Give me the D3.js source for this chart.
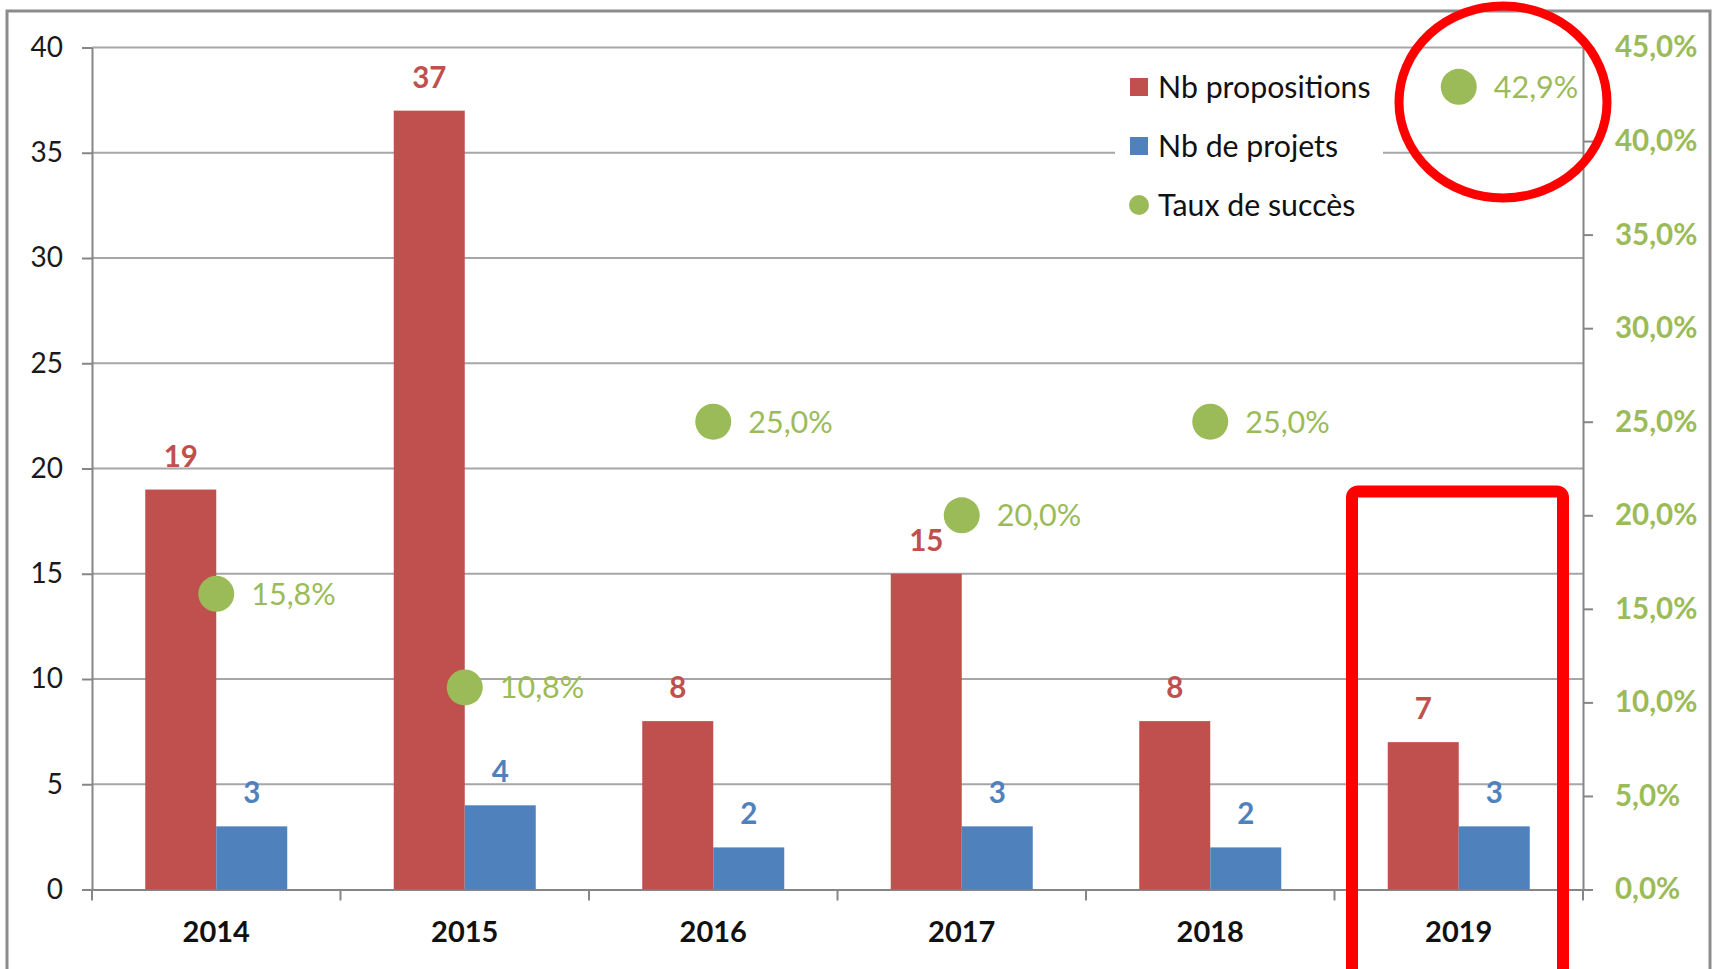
<!DOCTYPE html>
<html>
<head>
<meta charset="utf-8">
<script src="https://cdn.jsdelivr.net/npm/d3@7"></script>
<style>
  html, body { margin: 0; padding: 0; background: #fff; }
  svg { display: block; font-family: Lato, "Open Sans", sans-serif; }
</style>
</head>
<body>
<div id="app"></div>
<script>
const years = ["2014", "2015", "2016", "2017", "2018", "2019"];
const propositions = [19, 37, 8, 15, 8, 7];
const projets = [3, 4, 2, 3, 2, 3];
const taux = [0.158, 0.108, 0.25, 0.2, 0.25, 0.429];
const leftTicks = [0, 5, 10, 15, 20, 25, 30, 35, 40];
const rightTicks = [0, 0.05, 0.1, 0.15, 0.2, 0.25, 0.3, 0.35, 0.4, 0.45];
const seriesNames = ["Nb propositions", "Nb de projets", "Taux de succès"];

const red = "#c0504d", blue = "#4f81bd", green = "#9bbb59";

const W = 1717, H = 969;
const plotLeft = 92, plotRight = 1583, plotTop = 47.5, plotBottom = 889.5;

const svg = d3.select("#app").append("svg").attr("width", W).attr("height", H);

// chart frame
svg.append("rect")
  .attr("x", 7).attr("y", 11)
  .attr("width", 1703).attr("height", 1000)
  .attr("fill", "#fff").attr("stroke", "#8c8c8c").attr("stroke-width", 3);

const x = d3.scaleBand().domain(years).range([plotLeft, plotRight]);
const xSub = d3.scaleBand().domain(["prop", "proj"]).range([0, x.bandwidth()]).paddingOuter(0.75);
const yL = d3.scaleLinear().domain([0, 40]).range([plotBottom, plotTop]);
const yR = d3.scaleLinear().domain([0, 0.45]).range([plotBottom, plotTop]);

const fr = d3.formatLocale({ decimal: ",", thousands: " ", grouping: [3], currency: ["", "€"] });
const pct = fr.format(".1%");

// gridlines
svg.append("g").selectAll("line")
  .data(leftTicks.filter(d => d > 0))
  .join("line")
  .attr("x1", plotLeft).attr("x2", plotRight)
  .attr("y1", d => yL(d)).attr("y2", d => yL(d))
  .attr("stroke", "#a6a6a6").attr("stroke-width", 2);

// legend background hides gridline
svg.append("rect")
  .attr("x", 1115).attr("y", 62).attr("width", 268).attr("height", 172)
  .attr("fill", "#fff");

// axes
const axL = svg.append("g").attr("transform", `translate(${plotLeft},0)`)
  .call(d3.axisLeft(yL).tickValues(leftTicks).tickSize(10).tickSizeOuter(0).tickPadding(19));
axL.selectAll("text").attr("font-size", 28).attr("fill", "#1a1a1a").style("font-family", "Lato");

const axR = svg.append("g").attr("transform", `translate(${plotRight},0)`)
  .call(d3.axisRight(yR).tickValues(rightTicks).tickFormat(pct).tickSize(10).tickSizeOuter(0).tickPadding(22));
axR.selectAll("text").attr("font-size", 29.5).attr("font-weight", "bold").attr("fill", green).style("font-family", "Lato");

const axB = svg.append("g").attr("transform", `translate(0,${plotBottom})`)
  .call(d3.axisBottom(x).tickSize(0).tickSizeOuter(0).tickPadding(32));
axB.selectAll("text").attr("font-size", 29).attr("font-weight", "bold").attr("fill", "#111").style("font-family", "Lato");

// category boundary ticks
svg.append("g").selectAll("line")
  .data(years.map(d => x(d)).concat([plotRight]))
  .join("line")
  .attr("x1", d => d).attr("x2", d => d)
  .attr("y1", plotBottom).attr("y2", plotBottom + 11)
  .attr("stroke", "#868686").attr("stroke-width", 2);

svg.selectAll(".domain, .tick line").attr("stroke", "#868686").attr("stroke-width", 2);

// bars
const groups = svg.append("g").selectAll("g")
  .data(years.map((y, i) => ({ year: y, prop: propositions[i], proj: projets[i], rate: taux[i] })))
  .join("g")
  .attr("transform", d => `translate(${x(d.year)},0)`);

groups.append("rect")
  .attr("x", xSub("prop")).attr("width", xSub.bandwidth())
  .attr("y", d => yL(d.prop)).attr("height", d => plotBottom - yL(d.prop))
  .attr("fill", red);

groups.append("rect")
  .attr("x", xSub("proj")).attr("width", xSub.bandwidth())
  .attr("y", d => yL(d.proj)).attr("height", d => plotBottom - yL(d.proj))
  .attr("fill", blue);

groups.append("text")
  .attr("x", xSub("prop") + xSub.bandwidth() / 2)
  .attr("y", d => yL(d.prop) - 23)
  .attr("text-anchor", "middle").attr("font-size", 29.5).attr("font-weight", "bold")
  .attr("fill", red).text(d => d.prop);

groups.append("text")
  .attr("x", xSub("proj") + xSub.bandwidth() / 2)
  .attr("y", d => yL(d.proj) - 23)
  .attr("text-anchor", "middle").attr("font-size", 29.5).attr("font-weight", "bold")
  .attr("fill", blue).text(d => d.proj);

// success rate points
groups.append("circle")
  .attr("cx", x.bandwidth() / 2).attr("cy", d => yR(d.rate)).attr("r", 18)
  .attr("fill", green);

groups.append("text")
  .attr("x", x.bandwidth() / 2 + 35).attr("y", d => yR(d.rate))
  .attr("dy", "0.36em").attr("font-size", 30.5).attr("fill", green)
  .text(d => pct(d.rate));

// legend
const legend = svg.append("g").attr("transform", "translate(1130,0)");
const legY = [87, 146, 205];
legend.append("rect").attr("x", 0).attr("y", legY[0] - 9).attr("width", 18).attr("height", 18).attr("fill", red);
legend.append("rect").attr("x", 0).attr("y", legY[1] - 9).attr("width", 18).attr("height", 18).attr("fill", blue);
legend.append("circle").attr("cx", 9).attr("cy", legY[2]).attr("r", 10).attr("fill", green);
legend.selectAll("text")
  .data(seriesNames)
  .join("text")
  .attr("x", 28).attr("y", (d, i) => legY[i]).attr("dy", "0.36em")
  .attr("font-size", 30.3).attr("fill", "#111").text(d => d);

// red annotations
svg.append("ellipse")
  .attr("cx", 1503).attr("cy", 102).attr("rx", 104).attr("ry", 96)
  .attr("fill", "none").attr("stroke", "#ff0000").attr("stroke-width", 9);
svg.append("rect")
  .attr("x", 1352).attr("y", 491.5).attr("width", 211).attr("height", 600).attr("rx", 6)
  .attr("fill", "none").attr("stroke", "#ff0000").attr("stroke-width", 12);
</script>
</body>
</html>
